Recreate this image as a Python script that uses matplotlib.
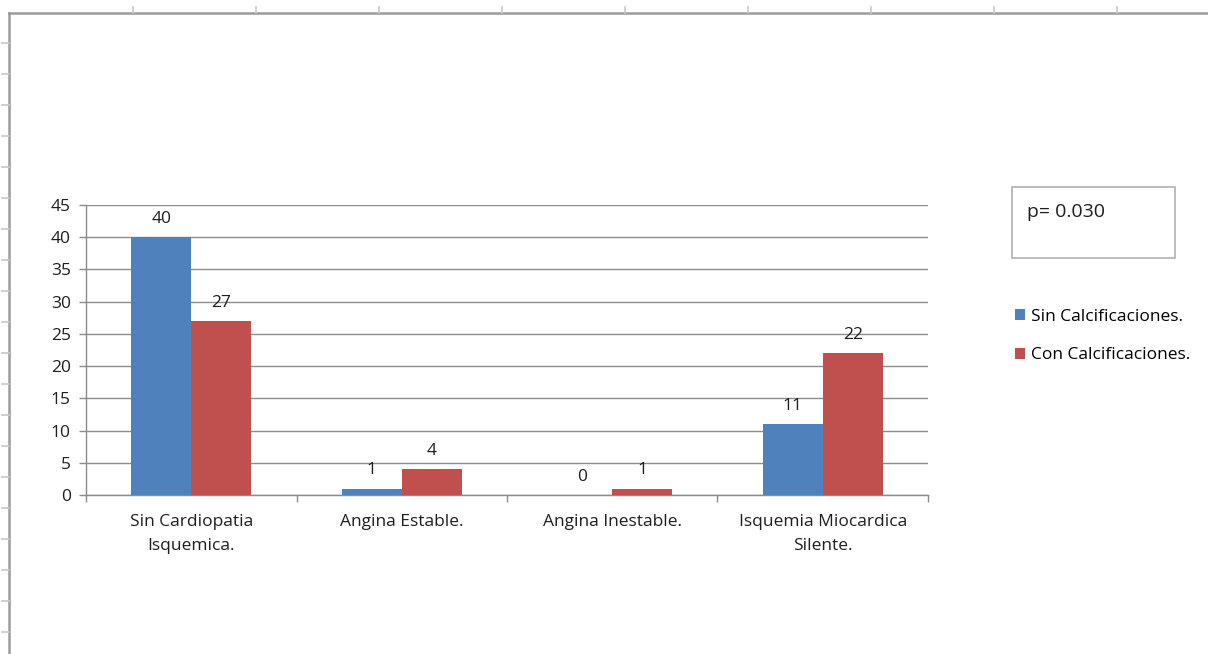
import matplotlib
matplotlib.use('Agg')
import matplotlib.pyplot as plt
from matplotlib.lines import Line2D
from matplotlib.patches import Rectangle
import numpy as np

plt.rcParams['font.family'] = ['Open Sans', 'DejaVu Sans']

categories = ['Sin Cardiopatia\nIsquemica.', 'Angina Estable.',
              'Angina Inestable.', 'Isquemia Miocardica\nSilente.']
sin_calc = [40, 1, 0, 11]
con_calc = [27, 4, 1, 22]
series_names = ['Sin Calcificaciones.', 'Con Calcificaciones.']
p_text = 'p= 0.030'

BLUE = '#4F81BD'
RED = '#C0504D'
GRID = '#8C8C8C'
TXT = '#1E1E1E'
FS = 12.5

W, H = 1208, 654
fig = plt.figure(figsize=(W / 100, H / 100), dpi=100)
fig.patch.set_facecolor('white')

# sheet frame with column / row marks
def px(x, y):
    return x / W, 1 - y / H

frame = '#9C9C9C'
fig.add_artist(Line2D([px(9, 0)[0], 1], [px(0, 13)[1]] * 2, color=frame, lw=1.8))
fig.add_artist(Line2D([px(9, 0)[0]] * 2, [px(0, 13)[1], 0], color=frame, lw=1.8))
for cx in range(133, W, 123):
    fig.add_artist(Line2D([cx / W] * 2, [px(0, 7)[1], px(0, 13)[1]], color='#C8C8C8', lw=1.2))
for ry in range(43, H, 31):
    fig.add_artist(Line2D([px(2, 0)[0], px(9, 0)[0]], [px(0, ry)[1]] * 2, color='#C8C8C8', lw=1.2))

ax = fig.add_axes([86 / W, 1 - 495 / H, (928 - 86) / W, (495 - 205) / H])
x = np.arange(len(categories))
w = 0.285
b1 = ax.bar(x - w / 2, sin_calc, w, color=BLUE, zorder=3, label=series_names[0])
b2 = ax.bar(x + w / 2, con_calc, w, color=RED, zorder=3, label=series_names[1])

for bars, vals in ((b1, sin_calc), (b2, con_calc)):
    for rect, v in zip(bars, vals):
        ax.annotate(str(v), (rect.get_x() + rect.get_width() / 2, v),
                    xytext=(0, 7.5), textcoords='offset points',
                    ha='center', va='bottom', fontsize=FS, color=TXT)

ax.set_xlim(-0.5, len(categories) - 0.5)
ax.set_ylim(0, 45)
ax.set_yticks(range(0, 46, 5))
ax.yaxis.grid(True, color=GRID, lw=1.0, zorder=0)
ax.set_axisbelow(True)

ax.set_xticks(np.arange(-0.5, len(categories), 1.0))
ax.set_xticklabels([])
ax.set_xticks(x, minor=True)
ax.set_xticklabels(categories, minor=True, fontsize=FS, color=TXT, linespacing=1.65)
ax.tick_params(axis='x', which='minor', length=0, pad=14)
ax.tick_params(axis='x', which='major', length=5, color=GRID, width=1.0)
ax.tick_params(axis='y', length=5, color=GRID, width=1.0, labelsize=FS,
               labelcolor=TXT, pad=6)

for s in ('top', 'right'):
    ax.spines[s].set_visible(False)
for s in ('left', 'bottom'):
    ax.spines[s].set_color(GRID)
    ax.spines[s].set_linewidth(1.0)

# p-value box
bx0, by0 = px(1012, 258)
bx1, by1 = px(1175, 187)
fig.add_artist(Rectangle((bx0, by0), bx1 - bx0, by1 - by0, transform=fig.transFigure,
                         fill=False, edgecolor='#B0B0B0', lw=1.2))
tx, ty = px(1027, 212)
fig.text(tx, ty, p_text, fontsize=14, va='center', ha='left', color=TXT)

lx, ly = px(1015, 336)
fig.legend(handles=[b1, b2], labels=series_names, loc='center left',
           bbox_to_anchor=(lx, ly), frameon=False, fontsize=FS,
           handlelength=0.6, handleheight=0.6, handletextpad=0.3,
           labelspacing=1.3, borderaxespad=0, borderpad=0)

fig.savefig('out.png', dpi=100, facecolor='white')
